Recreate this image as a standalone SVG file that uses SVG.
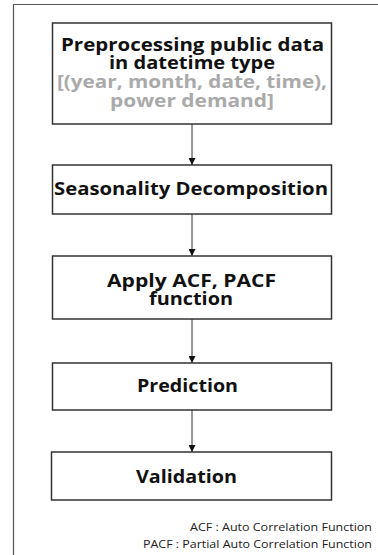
<svg xmlns="http://www.w3.org/2000/svg" width="378" height="555" viewBox="0 0 378 555">
  <style>
    .box { fill: #fff; stroke: #333; stroke-width: 1.5; }
    .t { font-family: "Open Sans", "Noto Sans", sans-serif; font-weight: bold; font-size: 17.5px; fill: #111; }
    .g { fill: #aaa; }
    .note { font-family: "Open Sans", "Noto Sans", sans-serif; font-size: 11px; fill: #222; }
    .edge { stroke: #333; stroke-width: 1; fill: none; marker-end: url(#arr); }
  </style>
  <defs>
    <marker id="arr" markerWidth="8" markerHeight="7" refX="7" refY="3.5" orient="auto" markerUnits="userSpaceOnUse">
      <path d="M0,0 L7,3.5 L0,7 Z" fill="#111"/>
    </marker>
  </defs>
  <rect width="378" height="555" fill="#fff"/>
  <!-- outer frame -->
  <path d="M13.5,555 V4.5 H378" fill="none" stroke="#555" stroke-width="1.2"/>

  <g id="connectors">
    <line class="edge" x1="192" y1="124" x2="192" y2="165"/>
    <line class="edge" x1="192" y1="214" x2="192" y2="256"/>
    <line class="edge" x1="192" y1="319" x2="192" y2="363"/>
    <line class="edge" x1="192" y1="410" x2="192" y2="452"/>
  </g>

  <g id="preprocess">
    <rect class="box" x="52.5" y="23" width="279" height="101"/>
    <text class="t" x="61" y="50.5" textLength="263" lengthAdjust="spacingAndGlyphs">Preprocessing public data</text>
    <text class="t" x="109" y="68.5" textLength="166" lengthAdjust="spacingAndGlyphs">in datetime type</text>
    <text class="t g" x="57" y="88" textLength="270" lengthAdjust="spacingAndGlyphs">[(year, month, date, time),</text>
    <text class="t g" x="110" y="107" textLength="164" lengthAdjust="spacingAndGlyphs">power demand]</text>
  </g>
  <g id="seasonality">
    <rect class="box" x="52.5" y="165" width="279" height="49"/>
    <text class="t" x="54" y="195" textLength="274" lengthAdjust="spacingAndGlyphs">Seasonality Decomposition</text>
  </g>
  <g id="acf">
    <rect class="box" x="52.5" y="256" width="279" height="63"/>
    <text class="t" x="107" y="287" textLength="169" lengthAdjust="spacingAndGlyphs">Apply ACF, PACF</text>
    <text class="t" x="149" y="305" textLength="84" lengthAdjust="spacingAndGlyphs">function</text>
  </g>
  <g id="prediction">
    <rect class="box" x="52.5" y="363" width="279" height="47"/>
    <text class="t" x="137" y="391.5" textLength="101" lengthAdjust="spacingAndGlyphs">Prediction</text>
  </g>
  <g id="validation">
    <rect class="box" x="51.5" y="452" width="280" height="48"/>
    <text class="t" x="136" y="483" textLength="101" lengthAdjust="spacingAndGlyphs">Validation</text>
  </g>

  <g id="legend">
    <text class="note" x="190" y="531" textLength="182" lengthAdjust="spacingAndGlyphs">ACF : Auto Correlation Function</text>
    <text class="note" x="143" y="548" textLength="229" lengthAdjust="spacingAndGlyphs">PACF : Partial Auto Correlation Function</text>
  </g>
</svg>
